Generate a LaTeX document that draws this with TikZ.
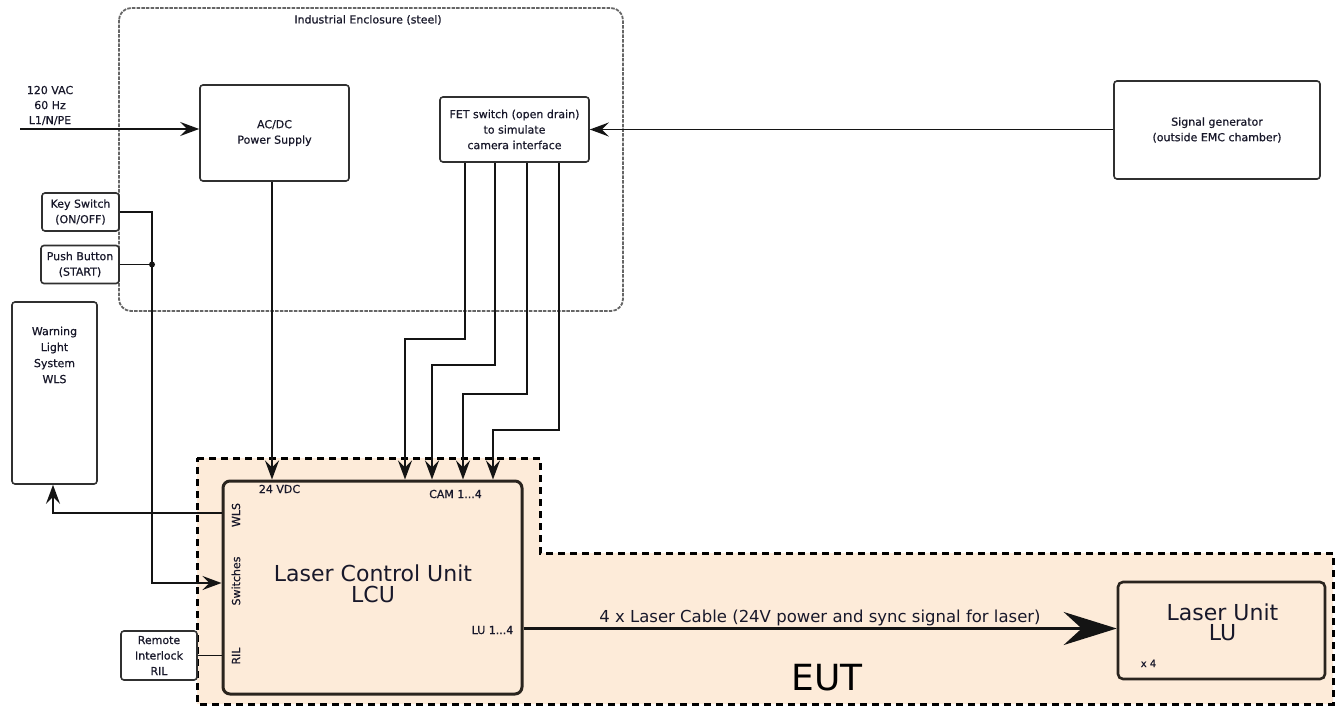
\documentclass[tikz,border=0pt]{standalone}
\usepackage{fontspec}
\setmainfont{DejaVu Sans}
\newfontfamily\heavyfont[FakeBold=0.6]{DejaVu Sans}
\usetikzlibrary{arrows.meta,calc}
\definecolor{peach}{HTML}{FDEBD9}
\definecolor{boxc}{HTML}{303030}
\definecolor{enclc}{HTML}{666666}
\definecolor{txtc}{HTML}{18182A}
\definecolor{darkc}{HTML}{2A241E}
\definecolor{linec}{HTML}{141414}
\begin{document}
\begin{tikzpicture}[x=1pt,y=-1pt,
  smalltxt/.style={font=\heavyfont\fontsize{11}{15.5}\selectfont, text=txtc, align=center, inner sep=0pt},
  box/.style={draw=boxc, line width=1.6pt, rounded corners=3pt, fill=white, inner sep=0pt,
              font=\heavyfont\fontsize{11}{15.5}\selectfont, text=txtc, align=center},
  bigbox/.style={draw=darkc, line width=3pt, rounded corners=7pt, fill=peach, inner sep=0pt},
  arr/.style={draw=linec, line width=1.6pt, -{Stealth[length=19pt,width=14pt,inset=7pt]}},
  wire/.style={draw=linec, line width=1.6pt},
  bigarr/.style={draw=linec, line width=3pt, -{Stealth[length=53pt,width=33pt,inset=18pt]}},
  eut/.style={draw=black, line width=3pt, dash pattern=on 7pt off 5pt, fill=peach},
  encl/.style={draw=enclc, line width=1.8pt, dash pattern=on 3.5pt off 1.2pt, rounded corners=12pt}
]
\useasboundingbox (0,0) rectangle (1343,706);

% EUT region
\draw[eut] (197,458) -- (540,458) -- (540,553) -- (1333,553) -- (1333,704) -- (197,704) -- cycle;

% Industrial enclosure
\draw[encl] (119,8) rectangle (623,311);
\node[smalltxt] (enclab) at (368,20) {Industrial Enclosure (steel)};

% boxes
\node[box, minimum width=149, minimum height=96] (acdc) at (274.5,133) {AC/DC\\Power Supply};
\node[box, minimum width=149, minimum height=65] (fet) at (514.5,129.5) {FET switch (open drain)\\to simulate\\camera interface};
\node[box, minimum width=206, minimum height=98] (sg) at (1217,130) {Signal generator\\(outside EMC chamber)};
\node[box, minimum width=77, minimum height=38] (ks) at (80.5,212) {Key Switch\\(ON/OFF)};
\node[box, minimum width=78, minimum height=38] (pb) at (80,264.5) {Push Button\\(START)};
\node[box, minimum width=76, minimum height=49] (ril) at (159,655.5) {Remote\\Interlock\\RIL};
\node[box, minimum width=85, minimum height=182] (wls) at (54.5,393) {};
\node[smalltxt, font=\heavyfont\fontsize{11}{16}\selectfont] (wlstext) at (54.5,355) {Warning\\Light\\System\\WLS};

\node[bigbox, minimum width=299, minimum height=213] (lcu) at (372.5,587.5) {};
\node[font=\fontsize{22}{21}\selectfont, text=txtc, align=center, inner sep=0pt] (lcutext) at (373,583.3) {Laser Control Unit\\LCU};
\node[bigbox, line width=2.6pt, rounded corners=5pt, minimum width=207, minimum height=97] (lu) at (1221.5,630.5) {};
\node[font=\fontsize{22}{20}\selectfont, text=txtc, align=center, inner sep=0pt] (lutext) at (1222.5,621.8) {Laser Unit\\LU};
\node[font=\heavyfont\fontsize{10}{12}\selectfont, text=txtc, anchor=base, inner sep=0pt] (x4) at (1148.5,667) {x 4};

% input text
\node[smalltxt, font=\heavyfont\fontsize{11}{15}\selectfont] (intext) at (50,105.5) {120 VAC\\60 Hz\\L1/N/PE};
\coordinate (acin) at (20,129);

% port labels
\node[smalltxt, anchor=base] (p24) at (279.5,493) {24 VDC};
\node[smalltxt, anchor=base] (pcam) at (455.5,498) {CAM 1...4};
\node[smalltxt, anchor=base] (plu) at (492.5,634) {LU 1...4};
\node[smalltxt, rotate=90] (pwls) at (236,515) {WLS};
\node[smalltxt, rotate=90] (psw) at (236,581) {Switches};
\node[smalltxt, rotate=90] (pril) at (236,656) {RIL};

% big labels
\node[font=\fontsize{16.5}{18}\selectfont, text=txtc, anchor=base, inner sep=0pt] (cablelab) at (820,622) {4 x Laser Cable (24V power and sync signal for laser)};
\node[font=\fontsize{36}{40}\selectfont, text=black, anchor=base, inner sep=0pt] (eutlab) at (827,690) {EUT};

% connectors
\draw[arr] (acin) -- (acin -| acdc.west);
\draw[arr] (sg.west |- fet.east) -- (fet.east);
\draw[arr] ([xshift=-2.5pt]acdc.south) -- ([xshift=-2.5pt]acdc.south |- lcu.north);

\draw[arr] ([xshift=-49.5pt]fet.south) -- ++(0,176) -| ([xshift=32.5pt]lcu.north);
\draw[arr] ([xshift=-19.5pt]fet.south) -- ++(0,202) -| ([xshift=59.5pt]lcu.north);
\draw[arr] ([xshift=12.5pt]fet.south) -- ++(0,231) -| ([xshift=90.5pt]lcu.north);
\draw[arr] ([xshift=44.5pt]fet.south) -- ++(0,267) -| ([xshift=120.5pt]lcu.north);

\draw[arr] ([yshift=74.5pt]lcu.west) -| ([xshift=-1.5pt]wls.south);

\coordinate (jn) at (152,264.5);
\draw[wire] (ks.east) -| (jn);
\draw[wire] (pb.east) -- (jn);
\draw[arr] (jn) |- ([yshift=4.5pt]lcu.west);
\fill[linec] (jn) circle (3pt);

\draw[wire] (ril.east) -- (ril.east -| lcu.west);

\coordinate (lup) at ([yshift=-41pt]lcu.east);
\draw[bigarr] (lup) -- (lup -| lu.west);
\end{tikzpicture}
\end{document}
